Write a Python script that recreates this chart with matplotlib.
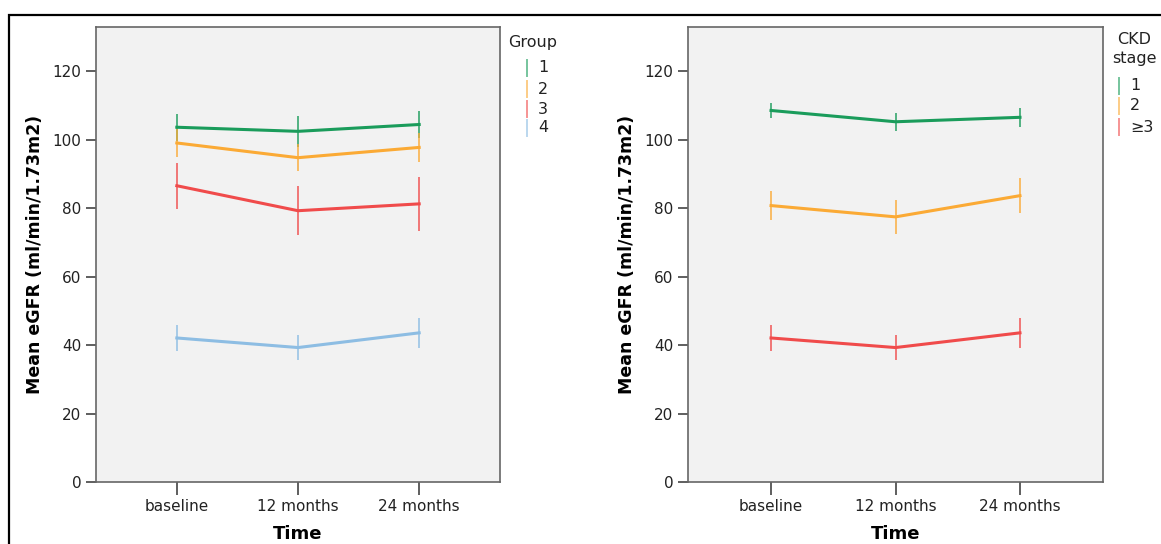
import numpy as np
import matplotlib
matplotlib.use('Agg')
import matplotlib.pyplot as plt
from matplotlib.lines import Line2D
from matplotlib.patches import Rectangle

# data
times = ['baseline', '12 months', '24 months']

group_labels = ['1', '2', '3', '4']
group_means = [
    [103.7, 102.5, 104.5],
    [99.1, 94.8, 97.8],
    [86.6, 79.3, 81.3],
    [42.1, 39.3, 43.6],
]
group_err = [
    [4.0, 4.5, 4.0],
    [4.0, 4.0, 4.2],
    [6.7, 7.1, 8.0],
    [3.8, 3.6, 4.3],
]

ckd_labels = ['1', '2', '\u22653']
ckd_means = [
    [108.6, 105.3, 106.6],
    [80.8, 77.5, 83.7],
    [42.1, 39.3, 43.6],
]
ckd_err = [
    [2.2, 2.6, 2.8],
    [4.3, 4.9, 5.2],
    [3.8, 3.6, 4.3],
]

green = '#1a9c5b'
orange = '#fbaa35'
red = '#f04b4b'
blue = '#8dbde3'

plt.rcParams['font.family'] = ['DejaVu Sans']

W, H = 1161, 544
fig = plt.figure(figsize=(W / 100, H / 100), dpi=100)

# outer frame of the original figure
fig.patches.append(Rectangle((8.5 / W, -0.1), 1.2, (H - 15) / H + 0.1,
                             transform=fig.transFigure, fill=False,
                             edgecolor='black', linewidth=1.6))

ax1 = fig.add_axes([96 / W, 1 - 482 / H, 404 / W, 455 / H])
ax2 = fig.add_axes([688 / W, 1 - 482 / H, 415 / W, 455 / H])


def px(x, y):
    # pixel position (from top left) to figure fraction
    return x / W, 1 - y / H


def draw_legend(title, title_xy, title_ha, colors, labels, sw_x, lab_x, ys):
    tx, ty = px(*title_xy)
    fig.text(tx, ty, title, ha=title_ha, va='center', fontsize=11.5,
             color='#222222', linespacing=1.3, multialignment='center')
    for c, lab, y in zip(colors, labels, ys):
        x0, y0 = px(sw_x, y - 8)
        _, y1 = px(sw_x, y + 8)
        fig.lines.append(Line2D([x0, x0], [y0, y1], transform=fig.transFigure,
                                color=c, lw=1.4, alpha=0.6))
        lx, ly = px(lab_x, y)
        fig.text(lx, ly, lab, ha='left', va='center', fontsize=11.5,
                 color='#222222')


def draw_panel(ax, means, errs, colors):
    x = np.arange(len(times))
    for m, e, c in zip(means, errs, colors):
        ax.errorbar(x, m, yerr=e, color=c, lw=2.2, elinewidth=1.3,
                    ecolor=matplotlib.colors.to_rgba(c, 0.8), capsize=0)
    ax.set_facecolor('#f2f2f2')
    ax.set_xlim(-0.667, 2.667)
    ax.set_ylim(0, 133)
    ax.set_yticks([0, 20, 40, 60, 80, 100, 120])
    ax.set_xticks(x)
    ax.set_xticklabels(times)
    for s in ax.spines.values():
        s.set_color('#666666')
        s.set_linewidth(1.2)
    ax.tick_params(axis='both', direction='out', colors='#333333',
                   labelsize=11, length=7, width=1.1, labelcolor='#222222')
    ax.tick_params(axis='x', length=9)
    ax.set_ylabel('Mean eGFR (ml/min/1.73m2)', fontsize=12.5,
                  fontweight='bold', labelpad=6)
    ax.set_xlabel('Time', fontsize=13, fontweight='bold', labelpad=8)


draw_panel(ax1, group_means, group_err, [green, orange, red, blue])
draw_panel(ax2, ckd_means, ckd_err, [green, orange, red])

draw_legend('Group', (508, 42), 'left', [green, orange, red, blue],
            group_labels, 527, 538, [68, 89, 109, 128])
draw_legend('CKD\nstage', (1134, 49), 'center', [green, orange, red],
            ckd_labels, 1119, 1130, [86, 106, 127])

fig.savefig('out.png', dpi=100)
